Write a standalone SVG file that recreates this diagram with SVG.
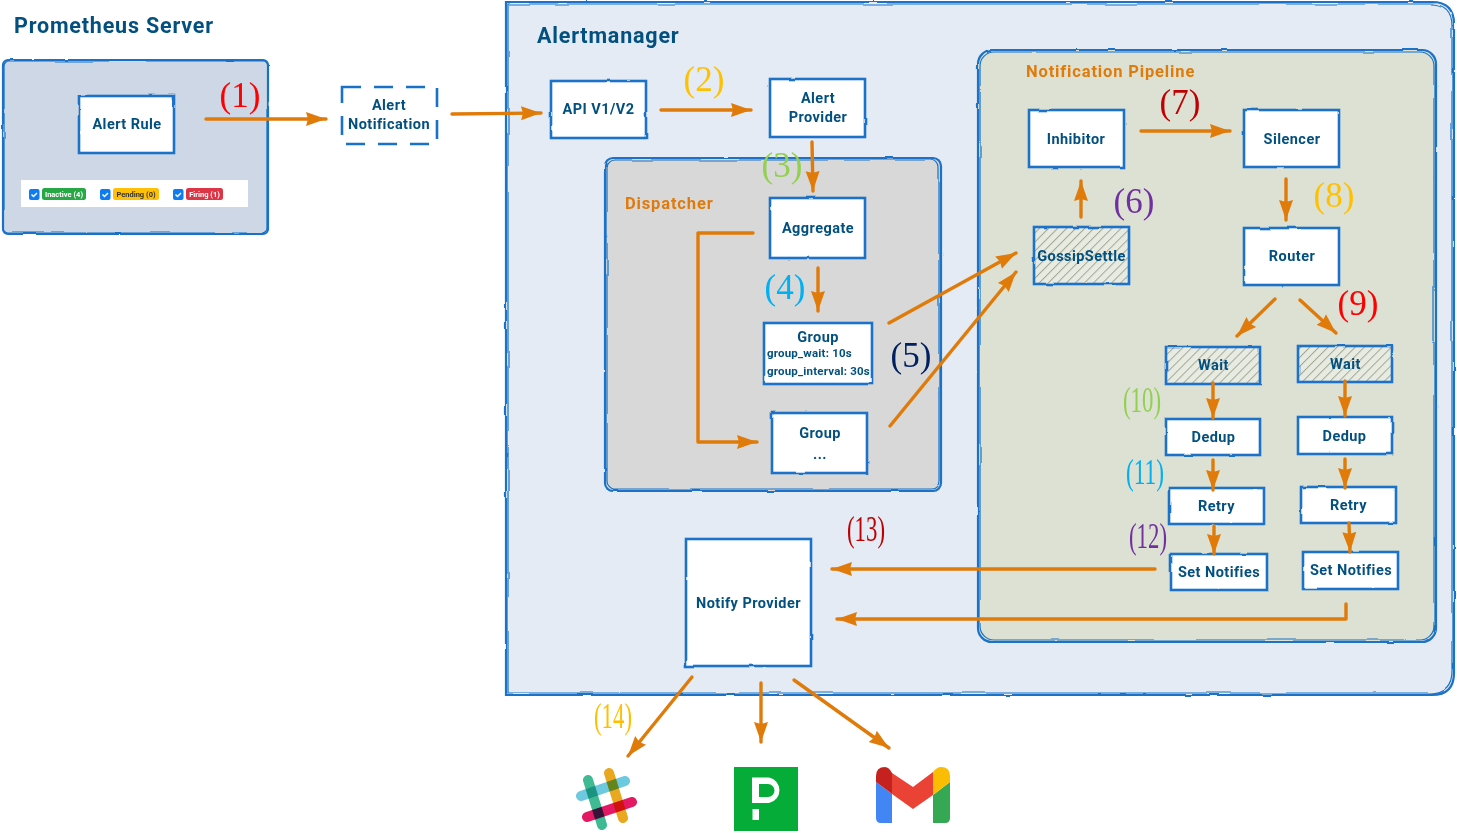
<svg xmlns="http://www.w3.org/2000/svg" width="1457" height="833" viewBox="0 0 1457 833">
<style>
.c{fill:#e4ebf4}
.b{fill:none;stroke:#1a72c8;stroke-width:2.2;filter:url(#w)}
.t{fill:none;stroke:#1a72c8;stroke-width:1.2;filter:url(#w2)}
.n{fill:#fff;stroke:#1a72c8;stroke-width:2.6;filter:url(#w)}
.h{fill:none;stroke:#1a72c8;stroke-width:2.6;filter:url(#w)}
.hf{fill:url(#hatch)}
text{font-family:Roboto,"Liberation Sans",sans-serif;font-weight:700;fill:#02507f}
.l{font-size:14.5px;text-anchor:middle;letter-spacing:.45px}
.s{font-size:11.5px;letter-spacing:.2px}
.ti{font-size:21.5px;letter-spacing:.8px}
.o{fill:#e07b0a;font-size:16.5px;letter-spacing:.85px}
.num{font-family:"Liberation Serif",serif;font-weight:400;font-size:35px;text-anchor:middle;letter-spacing:0}
.bd{font-size:7.5px;text-anchor:middle;letter-spacing:0}
.a{fill:none;stroke:#e07b0a;stroke-width:3.4;stroke-linecap:round;stroke-linejoin:round;marker-end:url(#ah)}
.sl{fill:none;stroke-width:10;stroke-linecap:round;mix-blend-mode:multiply}
</style>
<defs>
<filter id="w" x="-5%" y="-5%" width="110%" height="110%"><feTurbulence type="fractalNoise" baseFrequency="0.05" numOctaves="2" seed="3"/><feDisplacementMap in="SourceGraphic" scale="2.2" xChannelSelector="R" yChannelSelector="G"/></filter>
<filter id="w2" x="-5%" y="-5%" width="110%" height="110%"><feTurbulence type="fractalNoise" baseFrequency="0.02" numOctaves="2" seed="8"/><feDisplacementMap in="SourceGraphic" scale="3.5" xChannelSelector="R" yChannelSelector="G"/></filter>
<pattern id="hatch" width="6.4" height="6.4" patternUnits="userSpaceOnUse" patternTransform="rotate(45)"><rect width="6.4" height="6.4" fill="#e8ebe2"/><rect width="1" height="6.4" fill="#a3a893"/></pattern>
<marker id="ah" markerUnits="userSpaceOnUse" markerWidth="22" markerHeight="16" refX="20" refY="8" orient="auto"><path d="M0,1 L20,8 L0,15 L2,8 Z" fill="#e07b0a"/></marker>
</defs>

<g id="prometheus">
<rect x="3" y="60" width="265" height="174" rx="4" fill="#cdd7e5"/>
<rect class="b" x="3" y="60" width="265" height="174" rx="5"/>
<rect class="t" x="4" y="61" width="263" height="172" rx="5"/>
<text class="ti" x="14" y="33">Prometheus Server</text>
</g>
<g id="alert-rule"><rect class="n" x="79" y="96" width="95" height="57"/><text class="l" x="127" y="129">Alert Rule</text></g>
<g id="legend">
<rect x="21" y="180" width="227" height="27" fill="#fff"/>
<rect x="29" y="189" width="10.500" height="11" rx="2" fill="#0d7bf2"/><path d="M31.500,194.500l2,2 3.500,-3.500" fill="none" stroke="#fff" stroke-width="1.500"/>
<rect x="42" y="188" width="44" height="12" rx="2.500" fill="#28a745"/><text class="bd" x="64" y="197" style="fill:#fff">Inactive (4)</text>
<rect x="100" y="189" width="10.500" height="11" rx="2" fill="#0d7bf2"/><path d="M102.500,194.500l2,2 3.500,-3.500" fill="none" stroke="#fff" stroke-width="1.500"/>
<rect x="113" y="188" width="46" height="12" rx="2.500" fill="#ffc107"/><text class="bd" x="136" y="197" style="fill:#333">Pending (0)</text>
<rect x="173" y="189" width="10.500" height="11" rx="2" fill="#0d7bf2"/><path d="M175.500,194.500l2,2 3.500,-3.500" fill="none" stroke="#fff" stroke-width="1.500"/>
<rect x="186" y="188" width="37" height="12" rx="2.500" fill="#dc3545"/><text class="bd" x="204.500" y="197" style="fill:#fff">Firing (1)</text>
</g>
<g id="alert-notification"><rect x="342" y="87" width="95" height="57" fill="none" stroke="#1a72c8" stroke-width="2.6" stroke-dasharray="19 13"/><text class="l" x="389" y="110">Alert</text><text class="l" x="389" y="129">Notification</text></g>

<g id="alertmanager">
<path class="c" d="M506,2H1432Q1454,2 1454,24V673Q1454,695 1432,695H506Z"/>
<path class="b" d="M506,2H1432Q1454,2 1454,24V673Q1454,695 1432,695H506Z"/>
<path class="t" d="M508,4H1430Q1452,4 1452,26V671Q1452,693 1430,693H508Z"/>
<text class="ti" x="537" y="43">Alertmanager</text>
</g>
<g id="dispatcher">
<rect x="605" y="158" width="336" height="333" rx="8" fill="#d8d8d8"/>
<rect class="b" x="605" y="158" width="336" height="333" rx="8"/>
<rect class="t" x="607" y="160" width="332" height="329" rx="8"/>
<text class="o" x="625" y="209">Dispatcher</text>
</g>
<g id="pipeline">
<rect x="978" y="50" width="458" height="592" rx="14" fill="#dce1d3"/>
<rect class="b" x="978" y="50" width="458" height="592" rx="14"/>
<rect class="t" x="980" y="52" width="454" height="588" rx="14"/>
<text class="o" x="1026" y="77">Notification Pipeline</text>
</g>

<g id="api"><rect class="n" x="551" y="81" width="95" height="57"/><text class="l" x="598.500" y="114">API V1/V2</text></g>
<g id="alert-provider"><rect class="n" x="770" y="79" width="95" height="58"/><text class="l" x="818" y="103">Alert</text><text class="l" x="818" y="122">Provider</text></g>
<g id="aggregate"><rect class="n" x="770" y="198" width="95" height="60"/><text class="l" x="818" y="233">Aggregate</text></g>
<g id="group1"><rect class="n" x="764" y="323" width="108" height="61"/><text class="l" x="818" y="342">Group</text><text class="s" x="767" y="357">group_wait: 10s</text><text class="s" x="767" y="375">group_interval: 30s</text></g>
<g id="group2"><rect class="n" x="772" y="413" width="95" height="60"/><text class="l" x="820" y="438">Group</text><text class="l" x="820" y="459">...</text></g>
<g id="inhibitor"><rect class="n" x="1029" y="110" width="95" height="57"/><text class="l" x="1076" y="144">Inhibitor</text></g>
<g id="silencer"><rect class="n" x="1244" y="110" width="95" height="57"/><text class="l" x="1292" y="144">Silencer</text></g>
<g id="gossip"><rect class="hf" x="1034" y="227" width="95" height="57"/><rect class="h" x="1034" y="227" width="95" height="57"/><text class="l" x="1081.500" y="261">GossipSettle</text></g>
<g id="router"><rect class="n" x="1244" y="228" width="95" height="57"/><text class="l" x="1292" y="261">Router</text></g>
<g id="wait1"><rect class="hf" x="1166" y="347" width="94" height="37"/><rect class="h" x="1166" y="347" width="94" height="37"/><text class="l" x="1213.500" y="370">Wait</text></g>
<g id="wait2"><rect class="hf" x="1298" y="346" width="94" height="36"/><rect class="h" x="1298" y="346" width="94" height="36"/><text class="l" x="1345.500" y="369">Wait</text></g>
<g id="dedup1"><rect class="n" x="1166" y="419" width="94" height="36"/><text class="l" x="1213.500" y="442">Dedup</text></g>
<g id="dedup2"><rect class="n" x="1298" y="417" width="94" height="37"/><text class="l" x="1344.500" y="441">Dedup</text></g>
<g id="retry1"><rect class="n" x="1169" y="488" width="95" height="36"/><text class="l" x="1216.500" y="511">Retry</text></g>
<g id="retry2"><rect class="n" x="1301" y="487" width="95" height="36"/><text class="l" x="1348.500" y="510">Retry</text></g>
<g id="setnotifies1"><rect class="n" x="1171" y="554" width="96" height="36"/><text class="l" x="1219" y="577">Set Notifies</text></g>
<g id="setnotifies2"><rect class="n" x="1303" y="552" width="95" height="37"/><text class="l" x="1351" y="575">Set Notifies</text></g>
<g id="notify-provider"><rect class="n" x="686" y="539" width="125" height="127"/><text class="l" x="748.500" y="608">Notify Provider</text></g>

<g id="connectors">
<path class="a" d="M206,119H326"/>
<path class="a" d="M452,114L541,113"/>
<path class="a" d="M661,110H751"/>
<path class="a" d="M812,142L813,191"/>
<path class="a" d="M753,233H698V442H757"/>
<path class="a" d="M818,268V311"/>
<path class="a" d="M889,323L1016,253"/>
<path class="a" d="M890,426L1016,272"/>
<path class="a" d="M1081,217V181"/>
<path class="a" d="M1141,131H1230"/>
<path class="a" d="M1286,179V220"/>
<path class="a" d="M1275,299L1237,336"/>
<path class="a" d="M1300,300L1336,333"/>
<path class="a" d="M1213,383V418"/>
<path class="a" d="M1345,381V416"/>
<path class="a" d="M1213,460V490"/>
<path class="a" d="M1345,459V488"/>
<path class="a" d="M1214,526V554"/>
<path class="a" d="M1349,523L1350,552"/>
<path class="a" d="M1155,569H832"/>
<path class="a" d="M1346,604V619H837"/>
<path class="a" d="M692,677L628,756"/>
<path class="a" d="M761,683V742"/>
<path class="a" d="M794,680L889,748"/>
</g>

<g id="labels">
<text class="num" x="240" y="107" style="fill:#ff0000">(1)</text>
<text class="num" x="704" y="91" style="fill:#ffc000">(2)</text>
<text class="num" x="782" y="177" style="fill:#92d050">(3)</text>
<text class="num" x="785" y="299" style="fill:#00b0f0">(4)</text>
<text class="num" x="911" y="367" style="fill:#002060">(5)</text>
<text class="num" x="1134" y="213" style="fill:#7030a0">(6)</text>
<text class="num" x="1180" y="114" style="fill:#c00000">(7)</text>
<text class="num" x="1334" y="207" style="fill:#ffc000">(8)</text>
<text class="num" x="1358" y="315" style="fill:#ff0000">(9)</text>
<text class="num" x="1142" y="412" textLength="38" lengthAdjust="spacingAndGlyphs" style="fill:#92d050">(10)</text>
<text class="num" x="1145" y="484" textLength="38" lengthAdjust="spacingAndGlyphs" style="fill:#00b0f0">(11)</text>
<text class="num" x="1148" y="548" textLength="38" lengthAdjust="spacingAndGlyphs" style="fill:#7030a0">(12)</text>
<text class="num" x="866" y="541" textLength="38" lengthAdjust="spacingAndGlyphs" style="fill:#c00000">(13)</text>
<text class="num" x="613" y="728" textLength="38" lengthAdjust="spacingAndGlyphs" style="fill:#ffc000">(14)</text>
</g>

<g id="slack" style="isolation:isolate">
<path class="sl" stroke="#3fba93" d="M588,780L602,825"/>
<path class="sl" stroke="#e9a820" d="M609,773L623,818"/>
<path class="sl" stroke="#6dc9e0" d="M581,796L625,781"/>
<path class="sl" stroke="#e31a63" d="M587,817L632,802"/>
</g>
<g id="pagerduty">
<rect x="734" y="767" width="64" height="64" fill="#06ac38"/>
<path fill="#fff" fill-rule="evenodd" d="M752,777.500H769A13,13 0 0 1 769,803H752ZM759,784V797H768A6.500,6.500 0 0 0 768,784Z"/>
<rect x="752.500" y="809" width="6.500" height="11" fill="#fff"/>
</g>
<g id="gmail">
<path fill="#4285f4" d="M876,782L892,794V823H881Q876,823 876,818Z"/>
<path fill="#34a853" d="M933,795L950,782V818Q950,823 945,823H933Z"/>
<path fill="#ea4335" d="M892,773L913,787 933,772V795L913,809 892,794Z"/>
<path fill="#c5221f" d="M876,782V776Q876,767 885,767Q889,767 892,773V794Z"/>
<path fill="#fbbc04" d="M933,772Q937,767 941,767Q950,767 950,776V782L933,795Z"/>
</g>
</svg>
